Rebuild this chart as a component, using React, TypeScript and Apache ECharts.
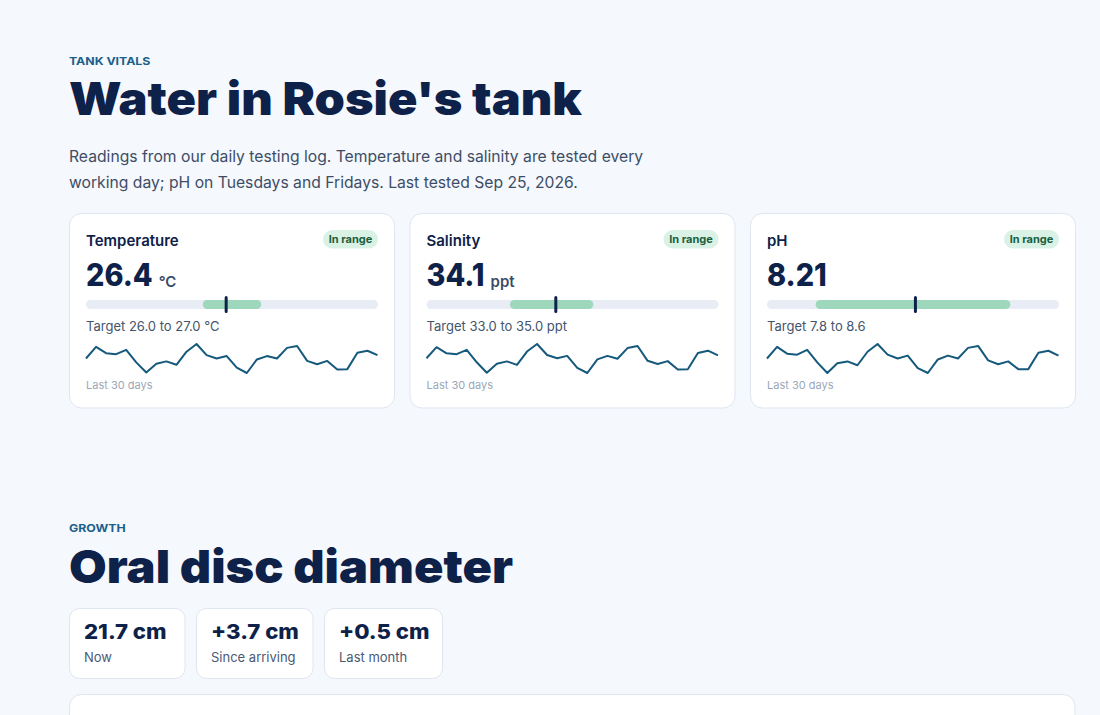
import React, { useEffect, useRef } from "react";
import * as echarts from "echarts";

// ---------- data ----------
const metricNames = ["Temperature", "Salinity", "pH"];
const metricValues = [26.4, 34.1, 8.21];
const metricValueLabels = ["26.4", "34.1", "8.21"];
const metricUnits = ["°C", "ppt", ""];
const targetLow = [26.0, 33.0, 7.8];
const targetHigh = [27.0, 35.0, 8.6];
const targetLabels = ["Target 26.0 to 27.0 °C", "Target 33.0 to 35.0 ppt", "Target 7.8 to 8.6"];
const scaleMin = [24, 31, 7.6];
const scaleMax = [29, 38, 8.8];
const statusLabels = ["In range", "In range", "In range"];

const temperatureLog = [26.40, 26.64, 26.51, 26.49, 26.58, 26.32, 26.11, 26.29, 26.34, 26.27, 26.54, 26.70, 26.47, 26.40, 26.45, 26.21, 26.10, 26.38, 26.45, 26.40, 26.62, 26.66, 26.35, 26.28, 26.35, 26.17, 26.18, 26.52, 26.56, 26.47];
const salinityLog = [34.11, 34.49, 34.28, 34.25, 34.40, 33.97, 33.61, 33.92, 34.00, 33.88, 34.34, 34.60, 34.22, 34.11, 34.19, 33.78, 33.60, 34.07, 34.19, 34.09, 34.46, 34.53, 34.02, 33.91, 34.01, 33.72, 33.73, 34.29, 34.37, 34.21];
const phLog = [8.20, 8.32, 8.25, 8.24, 8.29, 8.16, 8.05, 8.15, 8.17, 8.13, 8.27, 8.35, 8.24, 8.20, 8.23, 8.10, 8.05, 8.19, 8.23, 8.20, 8.31, 8.33, 8.18, 8.14, 8.17, 8.09, 8.09, 8.26, 8.28, 8.23];
const metricLogs = [temperatureLog, salinityLog, phLog];

const growthStatValues = ["21.7 cm", "+3.7 cm", "+0.5 cm"];
const growthStatLabels = ["Now", "Since arriving", "Last month"];

// ---------- style ----------
const FONT = "Inter, 'Noto Sans', sans-serif";
const NAVY = "#0e2149";
const BODY = "#3d4d66";
const EYEBROW = "#1d5f8b";
const BORDER = "#dfe6ef";
const CARD_X = [69.5, 410, 750.5];
const CARD_Y = 213.5;
const CARD_W = 325;
const CARD_H = 194.5;
const INNER = 16.5;
const INNER_W = 292;
const STAT_X = [69.5, 196.5, 324.5];
const STAT_W = [115.5, 116.5, 118];
const VALUE_STRETCH = 0.93;
const STAT_STRETCH = 1.08;

function measure(text: string, font: string): number {
  const c = document.createElement("canvas").getContext("2d");
  if (!c) return text.length * 10;
  c.font = font;
  return c.measureText(text).width;
}

function buildOption() {
  const headingFont = `900 46px ${FONT}`;
  const headingW = measure("Water in Rosie's tank", headingFont);
  const stretch = 513 / headingW;

  const graphic: any[] = [];
  const text = (t: string, x: number, y: number, size: number, weight: any, fill: string, extra: any = {}) => ({
    type: "text",
    x,
    y,
    z: 10,
    ...extra,
    style: { text: t, fontSize: size, fontWeight: weight, fontFamily: FONT, fill, align: "left", verticalAlign: "middle" },
  });

  graphic.push(text("TANK VITALS", 69, 61.2, 11, 700, EYEBROW, { scaleX: 1.12 }));
  graphic.push(text("Water in Rosie's tank", 69, 98.4, 46, 900, NAVY, { scaleX: stretch }));
  graphic.push(text("Readings from our daily testing log. Temperature and salinity are tested every", 69, 156, 15.7, 400, BODY));
  graphic.push(text("working day; pH on Tuesdays and Fridays. Last tested Sep 25, 2026.", 69, 182, 15.7, 400, BODY));

  const grid: any[] = [];
  const xAxis: any[] = [];
  const yAxis: any[] = [];
  const series: any[] = [];

  for (let i = 0; i < 3; i++) {
    const cx = CARD_X[i];
    graphic.push({
      type: "rect",
      z: 0,
      shape: { x: cx, y: CARD_Y, width: CARD_W, height: CARD_H, r: 12 },
      style: { fill: "#ffffff", stroke: BORDER, lineWidth: 1 },
    });
    graphic.push(text(metricNames[i], cx + INNER, 240.3, 15, 600, NAVY));
    // badge
    graphic.push({
      type: "rect",
      z: 5,
      shape: { x: cx + INNER + INNER_W - 55, y: 230, width: 55, height: 18.5, r: 9.25 },
      style: { fill: "#d9f2e5" },
    });
    graphic.push({
      type: "text",
      z: 10,
      x: cx + INNER + INNER_W - 27.5,
      y: 239.3,
      style: { text: statusLabels[i], fontSize: 11, fontWeight: 700, fontFamily: FONT, fill: "#1b5f3e", align: "center", verticalAlign: "middle" },
    });
    // big value
    const vFont = `800 31px ${FONT}`;
    const vW = measure(metricValueLabels[i], vFont) * VALUE_STRETCH;
    graphic.push(text(metricValueLabels[i], cx + INNER, 275, 31, 800, NAVY, { scaleX: VALUE_STRETCH }));
    if (metricUnits[i]) {
      graphic.push(text(metricUnits[i], cx + INNER + vW + 6, 281.5, 15, 600, "#3b4b66"));
    }
    graphic.push(text(targetLabels[i], cx + INNER, 326.3, 13, 400, "#44546c"));
    graphic.push(text("Last 30 days", cx + INNER, 385.3, 11, 400, "#9ca7b8"));

    // range bar grid
    const gRange = grid.length;
    grid.push({ left: cx + INNER, top: 295.5, width: INNER_W, height: 18 });
    xAxis.push({ type: "value", gridIndex: gRange, min: scaleMin[i], max: scaleMax[i], show: false });
    yAxis.push({ type: "category", gridIndex: gRange, data: ["range"], show: false });
    const bandRender = (fill: string) => (params: any, api: any) => {
      const a = api.coord([api.value(0), api.value(2)]);
      const b = api.coord([api.value(1), api.value(2)]);
      return {
        type: "rect",
        shape: { x: a[0], y: a[1] - 4.5, width: b[0] - a[0], height: 9, r: 4.5 },
        style: { fill },
      };
    };
    series.push({
      type: "custom",
      xAxisIndex: gRange,
      yAxisIndex: gRange,
      z: 2,
      encode: { x: [0, 1], y: 2 },
      data: [[scaleMin[i], scaleMax[i], 0]],
      renderItem: bandRender("#e8ecf4"),
    });
    series.push({
      type: "custom",
      xAxisIndex: gRange,
      yAxisIndex: gRange,
      z: 3,
      encode: { x: [0, 1], y: 2 },
      data: [[targetLow[i], targetHigh[i], 0]],
      renderItem: bandRender("#9dd8bd"),
    });
    series.push({
      type: "custom",
      xAxisIndex: gRange,
      yAxisIndex: gRange,
      z: 4,
      encode: { x: 0, y: 1 },
      data: [[metricValues[i], 0]],
      renderItem: (params: any, api: any) => {
        const p = api.coord([api.value(0), api.value(1)]);
        return {
          type: "rect",
          shape: { x: p[0] - 1.5, y: p[1] - 8.5, width: 3, height: 17, r: 1.5 },
          style: { fill: NAVY },
        };
      },
    });

    // sparkline grid
    const gSpark = grid.length;
    grid.push({ left: cx + INNER, top: 344, width: INNER_W - 0.5, height: 29 });
    xAxis.push({ type: "category", gridIndex: gSpark, boundaryGap: false, show: false });
    yAxis.push({ type: "value", gridIndex: gSpark, min: "dataMin", max: "dataMax", scale: true, show: false });
    series.push({
      type: "line",
      xAxisIndex: gSpark,
      yAxisIndex: gSpark,
      data: metricLogs[i],
      symbol: "none",
      z: 3,
      lineStyle: { color: "#15597c", width: 2, join: "round" },
    });
  }

  // growth section
  graphic.push(text("GROWTH", 69, 528, 11, 700, EYEBROW, { scaleX: 1.12 }));
  graphic.push(text("Oral disc diameter", 69, 565.5, 46, 900, NAVY, { scaleX: stretch }));
  for (let i = 0; i < 3; i++) {
    graphic.push({
      type: "rect",
      z: 0,
      shape: { x: STAT_X[i], y: 608.5, width: STAT_W[i], height: 70, r: 10 },
      style: { fill: "#ffffff", stroke: BORDER, lineWidth: 1 },
    });
    graphic.push(text(growthStatValues[i], STAT_X[i] + 14.5, 631.5, 20.5, 800, NAVY, { scaleX: STAT_STRETCH }));
    graphic.push(text(growthStatLabels[i], STAT_X[i] + 14.5, 657, 13, 400, "#4a5a73"));
  }
  graphic.push({
    type: "rect",
    z: 0,
    shape: { x: 69.5, y: 694.5, width: 1005.5, height: 120, r: 12 },
    style: { fill: "#ffffff", stroke: BORDER, lineWidth: 1 },
  });

  return {
    animation: false,
    backgroundColor: "#f5f8fc",
    grid,
    xAxis,
    yAxis,
    series,
    graphic: { elements: graphic },
  };
}

export default function App() {
  const ref = useRef<HTMLDivElement>(null);
  useEffect(() => {
    document.body.style.margin = "0";
    if (!ref.current) return;
    const chart = echarts.init(ref.current, undefined, { renderer: "svg" });
    chart.setOption(buildOption() as any);
    return () => chart.dispose();
  }, []);
  return <div ref={ref} style={{ position: "absolute", left: 0, top: 0, width: 1100, height: 715 }} />;
}
